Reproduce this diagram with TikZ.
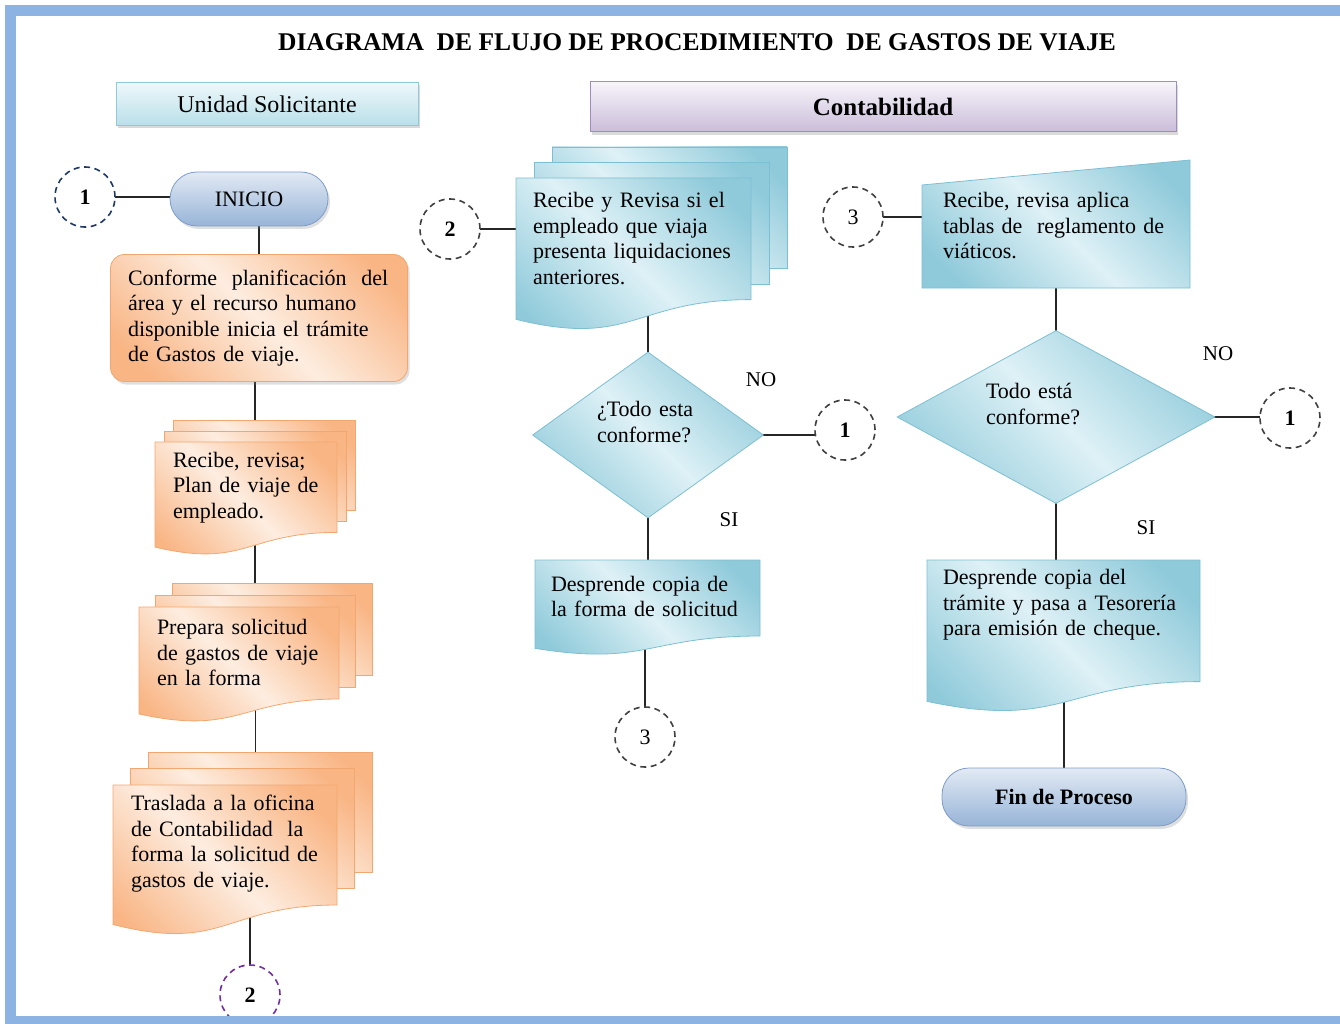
\documentclass[tikz,border=0pt]{standalone}
\usepackage{fontspec}
\setmainfont{Liberation Serif}
\usetikzlibrary{shapes.geometric,shadows,backgrounds}

\definecolor{framecol}{HTML}{8DB3E2}
\definecolor{orangedk}{HTML}{F9B584}
\definecolor{orangelt}{HTML}{FDEDE0}
\definecolor{orangeln}{HTML}{F2A770}
\definecolor{bluedk}{HTML}{8FCADA}
\definecolor{bluelt}{HTML}{DEF1F6}
\definecolor{blueln}{HTML}{7DBFD2}
\definecolor{termlt}{HTML}{E2EAF4}
\definecolor{termdk}{HTML}{97B4D8}
\definecolor{termln}{HTML}{7E9CC8}
\definecolor{hdrlt}{HTML}{EEF8FA}
\definecolor{hdrdk}{HTML}{B9DFE9}
\definecolor{purplt}{HTML}{F7F4FA}
\definecolor{purpdk}{HTML}{CABDD9}
\definecolor{purpln}{HTML}{A08CBF}
\definecolor{navyln}{HTML}{1F3864}
\definecolor{violetln}{HTML}{7030A0}

\pgfdeclarehorizontalshading{bluediag}{100bp}{color(0bp)=(bluedk); color(22bp)=(bluedk); color(50bp)=(bluelt); color(78bp)=(bluedk); color(100bp)=(bluedk)}
\pgfdeclarehorizontalshading{orangediag}{100bp}{color(0bp)=(orangedk); color(22bp)=(orangedk); color(50bp)=(orangelt); color(78bp)=(orangedk); color(100bp)=(orangedk)}

\newcommand{\bodyfont}{\fontsize{22}{25.5}\selectfont}
\newcommand{\numfont}{\fontsize{22}{24}\selectfont}
\newcommand{\titlefont}{\fontsize{25.5}{30}\selectfont\bfseries}

% one sheet with a wavy lower edge: style, left, top, right, bottom
\newcommand{\docsheet}[5]{%
  \path[#1] (#2,#3) -- (#4,#3) -- (#4,{#3+0.8*(#5-#3)})
    .. controls ({0.5*(#2+#4)},{#3+0.8*(#5-#3)}) and ({0.5*(#2+#4)},{#3+1.12*(#5-#3)})
    .. (#2,{#3+0.93*(#5-#3)}) -- cycle;}
% three stacked sheets: style, left, top, right, bottom, xstep, ystep
\newcommand{\multidoc}[7]{%
  \pgfmathsetmacro{\sheeth}{#5-#3-2*#7}
  \pgfmathsetmacro{\mdtop}{#3+2*#7}
  \pgfmathsetmacro{\mdright}{#4-2*#6}
  \path[#1] (#2+2*#6,#3) rectangle (#4,{#3+0.8*\sheeth});
  \path[#1] (#2+#6,#3+#7) rectangle (#4-#6,{#3+#7+0.8*\sheeth});
  \docsheet{#1}{#2}{\mdtop}{\mdright}{#5}}

\tikzset{
  conn/.style={line width=1.4pt, black!85},
  blueshape/.style={draw=blueln, line width=0.8pt, shade, shading=bluediag, shading angle=45},
  orangeshape/.style={draw=orangeln, line width=0.8pt, shade, shading=orangediag, shading angle=45},
  txt/.style={inner sep=0pt, align=left, font=\bodyfont},
  conncirc/.style={circle, draw=#1, fill=white, dash pattern=on 6pt off 4.5pt, line width=1.6pt, minimum size=60pt, inner sep=0pt, font=\numfont},
  conncirc/.default=black!75,
  term/.style={rectangle, rounded corners=27pt, draw=termln, line width=0.8pt, top color=termlt, bottom color=termdk, drop shadow={opacity=0.25, shadow xshift=2pt, shadow yshift=-3pt}},
  procbox/.style={rectangle, rounded corners=14pt, draw=orangeln, line width=0.8pt, shade, shading=orangediag, shading angle=45, align=left, font=\bodyfont, drop shadow={opacity=0.25, shadow xshift=2pt, shadow yshift=-3pt}},
  decision/.style={diamond, draw=blueln, line width=0.8pt, shade, shading=bluediag, shading angle=45, inner sep=0pt, align=left, font=\bodyfont},
  hdrbox/.style={rectangle, line width=1pt, drop shadow={opacity=0.3, shadow xshift=2pt, shadow yshift=-3pt}},
  lbl/.style={font=\fontsize{21}{24}\selectfont}
}

\begin{document}
\begin{tikzpicture}[x=1pt,y=-1pt]
  \useasboundingbox (0,0) rectangle (1340,1024); % page

  \node (title) at (697,42) [font=\titlefont] {DIAGRAMA~~DE FLUJO DE PROCEDIMIENTO~~DE GASTOS DE VIAJE}; % title
  \node[hdrbox, draw=bluedk, top color=hdrlt, bottom color=hdrdk, font=\fontsize{24}{26}\selectfont] (unidad) at (267,104) [minimum width=302pt, minimum height=43pt] {Unidad Solicitante}; % left lane
  \node[hdrbox, draw=purpln, top color=purplt, bottom color=purpdk, font=\fontsize{25}{28}\selectfont\bfseries] (contab) at (883,107) [minimum width=586pt, minimum height=50pt] {Contabilidad}; % right lane

  % Unidad Solicitante
  \node[conncirc=navyln, font=\numfont\bfseries] (c1a) at (85,197) {1}; % connector 1
  \node[term, font=\fontsize{22}{24}\selectfont] (inicio) at (249,199) [minimum width=158pt, minimum height=54pt] {INICIO}; % start
  \node[procbox, text width=262pt] (conforme) at (259,318) [minimum width=297pt, minimum height=127pt] {\mbox{Conforme~ planificación~ del}\\área y el recurso humano\\disponible inicia el trámite\\de Gastos de viaje.}; % first step
  \multidoc{orangeshape}{155}{420}{355}{555}{9}{11} % sheets
  \node[txt, text width=164pt] (plan) at (255,487.5) [minimum width=200pt, minimum height=135pt] {Recibe, revisa;\\Plan de viaje de\\empleado.};
  \multidoc{orangeshape}{139}{583}{372}{722}{16.5}{12} % sheets
  \node[txt, text width=197pt] (prepara) at (255.5,652.5) [minimum width=233pt, minimum height=139pt] {Prepara solicitud\\de gastos de viaje\\en la forma};
  \multidoc{orangeshape}{113}{752}{372}{935}{17.5}{16.5} % sheets
  \node[txt, text width=223pt] (traslada) at (242.5,843.5) [minimum width=259pt, minimum height=183pt] {Traslada a la oficina\\de Contabilidad~ la\\forma la solicitud de\\gastos de viaje.};
  \node[conncirc=violetln, font=\numfont\bfseries] (c2a) at (250,995) {2}; % connector 2

  % Contabilidad, first branch
  \node[conncirc, font=\numfont\bfseries] (c2b) at (450,229) {2}; % connector 2
  \multidoc{blueshape}{516}{147}{787}{330}{18}{15.5} % sheets
  \node[txt, text width=237pt] (revisa) at (651.5,238.5) [minimum width=271pt, minimum height=183pt] {Recibe y Revisa si el\\empleado que viaja\\presenta liquidaciones\\anteriores.};
  \node[decision, text width=102pt, aspect=1.4] (dec1) at (648,435) [minimum width=231pt, minimum height=166pt] {¿Todo esta\\conforme?\\[1pt]\mbox{}}; % check
  \node[lbl] (no1) at (761,380) {NO};
  \node[lbl] (si1) at (729,520) {SI};
  \node[conncirc, font=\numfont\bfseries] (c1b) at (845,430) {1}; % connector 1
  \docsheet{blueshape}{535}{560}{760}{655} % sheet
  \node[txt, text width=193pt] (copia1) at (647.5,607.5) [minimum width=225pt, minimum height=95pt] {Desprende copia de\\la forma de solicitud\\[-3pt]\mbox{}};
  \node[conncirc] (c3a) at (645,737) {3}; % connector 3

  % Contabilidad, second branch
  \node[conncirc] (c3b) at (853,217) {3}; % connector 3
  \path[blueshape] (922,185) -- (1190,160) -- (1190,288) -- (922,288) -- cycle; % slanted box
  \node[txt, text width=226pt] (aplica) at (1056,226) [minimum width=268pt, minimum height=128pt] {Recibe, revisa aplica\\tablas de~ reglamento de\\viáticos.};
  \node[decision, text width=140pt, aspect=1.84] (dec2) at (1056,417) [minimum width=318pt, minimum height=173pt] {Todo está\\conforme?\\[1pt]\mbox{}}; % check
  \node[lbl] (no2) at (1218,354) {NO};
  \node[lbl] (si2) at (1146,528) {SI};
  \node[conncirc, font=\numfont\bfseries] (c1c) at (1290,418) {1}; % connector 1
  \docsheet{blueshape}{927}{560}{1200}{712} % sheet
  \node[txt, text width=241pt] (copia2) at (1063.5,636) [minimum width=273pt, minimum height=152pt] {Desprende copia del\\trámite y pasa a Tesorería\\para emisión de cheque.\\[41pt]\mbox{}};
  \node[term, font=\fontsize{22}{24}\selectfont\bfseries] (fin) at (1064,797) [minimum width=244pt, minimum height=58pt] {Fin de Proceso}; % end

  \begin{pgfonlayer}{background}
    \draw[conn] (c1a.center) -- (c1a.center -| inicio.center); % 1 to start
    \draw[conn] (conforme.center |- inicio.center) -- (conforme.center);
    \draw[conn] (plan.center |- conforme.center) -- (plan.center);
    \draw[conn] (plan.center) -- (plan.center |- prepara.center);
    \draw[conn] (prepara.center) -- (prepara.center |- traslada.center);
    \draw[conn] (c2a.center |- traslada.center) -- (c2a.center);
    \draw[conn] (c2b.center) -- (c2b.center -| revisa.center); % 2 to review
    \draw[conn] (dec1.center |- revisa.center) -- (dec1.center);
    \draw[conn] (dec1.center) -- (dec1.center -| c1b.center); % NO
    \draw[conn] (dec1.center) -- (dec1.center |- copia1.center); % SI
    \draw[conn] (c3a.center |- copia1.center) -- (c3a.center);
    \draw[conn] (c3b.center) -- (c3b.center -| aplica.center); % 3 to tables
    \draw[conn] (dec2.center |- aplica.center) -- (dec2.center);
    \draw[conn] (dec2.center) -- (dec2.center -| c1c.center); % NO
    \draw[conn] (dec2.center) -- (dec2.center |- copia2.center); % SI
    \draw[conn] (fin.center |- copia2.center) -- (fin.center);
  \end{pgfonlayer}

  \draw[framecol, line width=11pt] (10.5,10.5) rectangle (1400,1021.5); % blue frame
\end{tikzpicture}
\end{document}
